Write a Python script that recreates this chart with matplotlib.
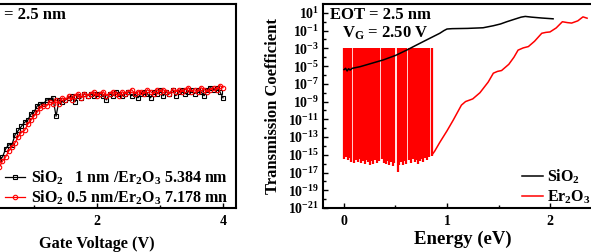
import numpy as np
import matplotlib
matplotlib.use('Agg')
import matplotlib.pyplot as plt
from matplotlib.ticker import FixedLocator, FuncFormatter, NullFormatter

plt.rcParams.update({
    'font.family': 'Liberation Serif', 'font.weight': 'bold',
    'mathtext.fontset': 'custom', 'mathtext.rm': 'Liberation Serif:bold',
    'mathtext.it': 'Liberation Serif:italic:bold', 'mathtext.bf': 'Liberation Serif:bold',
    'mathtext.default': 'rm', 'axes.linewidth': 1.5,
    'xtick.direction': 'in', 'ytick.direction': 'in',
})

# ---------------- left panel data (arbitrary units) ----------------
gate_v = [0.30, 0.35, 0.40, 0.45, 0.50, 0.55, 0.60, 0.65, 0.70, 0.75, 0.80, 0.85, 0.90, 0.95,
          1.00, 1.05, 1.10, 1.15, 1.20, 1.25, 1.30, 1.35, 1.40, 1.45, 1.50, 1.55, 1.60, 1.65,
          1.70, 1.75, 1.80, 1.85, 1.90, 1.95, 2.00, 2.05, 2.10, 2.15, 2.20, 2.25, 2.30, 2.35,
          2.40, 2.45, 2.50, 2.55, 2.60, 2.65, 2.70, 2.75, 2.80, 2.85, 2.90, 2.95, 3.00, 3.05,
          3.10, 3.15, 3.20, 3.25, 3.30, 3.35, 3.40, 3.45, 3.50, 3.55, 3.60, 3.65, 3.70, 3.75,
          3.80, 3.85, 3.90, 3.95, 4.00]
sio2_1nm = [0.17, 0.19, 0.21, 0.24, 0.25, 0.29, 0.31, 0.31, 0.36, 0.38, 0.40, 0.42, 0.43, 0.46,
            0.47, 0.50, 0.51, 0.51, 0.53, 0.53, 0.54, 0.45, 0.53, 0.52, 0.53, 0.54, 0.55, 0.52,
            0.55, 0.54, 0.56, 0.55, 0.56, 0.55, 0.56, 0.56, 0.55, 0.53, 0.56, 0.55, 0.57, 0.56,
            0.55, 0.56, 0.57, 0.55, 0.56, 0.54, 0.56, 0.57, 0.56, 0.54, 0.57, 0.56, 0.58, 0.55,
            0.57, 0.56, 0.58, 0.55, 0.57, 0.58, 0.56, 0.57, 0.58, 0.56, 0.58, 0.57, 0.55, 0.58,
            0.59, 0.58, 0.59, 0.57, 0.54]
sio2_05nm = [0.14, 0.16, 0.18, 0.20, 0.23, 0.25, 0.28, 0.30, 0.32, 0.35, 0.37, 0.38, 0.41, 0.43,
             0.45, 0.47, 0.49, 0.50, 0.50, 0.52, 0.51, 0.53, 0.51, 0.54, 0.53, 0.55, 0.53, 0.55,
             0.56, 0.54, 0.56, 0.55, 0.56, 0.57, 0.55, 0.56, 0.57, 0.55, 0.56, 0.57, 0.56, 0.55,
             0.57, 0.56, 0.57, 0.58, 0.56, 0.57, 0.57, 0.56, 0.58, 0.57, 0.56, 0.58, 0.57, 0.58,
             0.57, 0.56, 0.58, 0.57, 0.58, 0.57, 0.58, 0.59, 0.57, 0.58, 0.57, 0.59, 0.58, 0.57,
             0.58, 0.59, 0.58, 0.60, 0.59]
left_labels = ['SiO$_2$   1 nm /Er$_2$O$_3$ 5.384 nm', 'SiO$_2$ 0.5 nm/Er$_2$O$_3$ 7.178 mn']

# ---------------- right panel data (log10 of transmission) ----------------
sio2_E = [0.00, 0.015, 0.03, 0.045, 0.06, 0.08, 0.155, 0.25, 0.38, 0.50, 0.61, 0.70, 0.80,
          0.87, 0.93, 0.97, 1.00, 1.05, 1.20, 1.35, 1.45, 1.52, 1.58, 1.66, 1.72, 1.76, 1.82,
          1.92, 2.03]
sio2_logT = [-5.40, -5.25, -5.55, -5.30, -5.45, -5.25, -5.07, -4.75, -4.31, -3.80, -3.19, -2.65,
             -2.06, -1.65, -1.30, -1.00, -0.82, -0.78, -0.75, -0.68, -0.45, -0.25, 0.00, 0.30,
             0.52, 0.60, 0.52, 0.42, 0.33]

er2o3_spike_E = [0.000, 0.017, 0.034, 0.051, 0.068,
                 0.098, 0.115, 0.132, 0.149, 0.166, 0.183, 0.200, 0.217, 0.234, 0.251, 0.268,
                 0.285, 0.302, 0.319, 0.336,
                 0.370, 0.387, 0.404, 0.421, 0.438, 0.455, 0.472, 0.489,
                 0.520, 0.537, 0.554, 0.571, 0.588, 0.605,
                 0.635, 0.652, 0.669, 0.686, 0.703, 0.720, 0.737, 0.754, 0.771, 0.788, 0.805,
                 0.822, 0.855]
er2o3_spike_low = [-15.5, -15.3, -15.6, -15.4, -15.8,
                   -15.9, -15.6, -15.8, -15.5, -15.9, -15.7, -16.0, -15.6, -15.8, -16.1, -15.7,
                   -16.0, -15.6, -15.9, -15.7,
                   -15.5, -15.9, -16.0, -15.7, -16.2, -15.8, -16.3, -15.9,
                   -16.9, -16.2, -15.8, -16.1, -15.7, -16.0,
                   -15.6, -15.9, -15.5, -15.8, -15.6, -16.0, -15.7, -15.5, -15.8, -15.4, -15.6,
                   -15.3, -15.1]
er2o3_spike_peak = -2.95

er2o3_E = [0.855, 0.88, 0.93, 1.00, 1.06, 1.14, 1.18, 1.25, 1.32, 1.40, 1.45, 1.49, 1.53,
           1.60, 1.65, 1.69, 1.74, 1.79, 1.85, 1.92, 1.96, 2.00, 2.06, 2.12, 2.17, 2.21,
           2.27, 2.32, 2.36]
er2o3_logT = [-15.0, -14.6, -13.6, -12.3, -11.1, -9.4, -9.0, -8.7, -8.0, -6.8, -5.8, -5.6,
              -5.5, -4.8, -4.0, -3.2, -2.95, -2.8, -2.2, -1.3, -1.2, -1.15, -0.7, 0.0, -0.1,
              -0.15, 0.1, 0.55, 0.4]

# ---------------- figure ----------------
W, H = 591, 252
fig = plt.figure(figsize=(W / 100, H / 100), dpi=100)


def frac(l, r, t, b):
    return [l / W, 1 - b / H, (r - l) / W, (b - t) / H]


ax1 = fig.add_axes(frac(-41.6, 235.6, 4, 208))
ax2 = fig.add_axes(frac(323.4, 601.5, 4, 208))

# left panel
ax1.plot(gate_v, sio2_1nm, '-s', color='k', mfc='none', ms=3.2, mew=0.8, lw=0.9,
         label=left_labels[0])
ax1.plot(gate_v, sio2_05nm, '-o', color='r', mfc='none', ms=3.2, mew=0.8, lw=0.9,
         label=left_labels[1])
ax1.set_xlim(-0.2, 4.2)
ax1.set_ylim(0, 1)
ax1.xaxis.set_major_locator(FixedLocator([0, 2, 4]))
ax1.xaxis.set_minor_locator(FixedLocator([1, 3]))
ax1.set_yticks([])
ax1.tick_params(axis='x', which='major', length=3.5, width=1.0, labelsize=10, pad=5)
ax1.tick_params(axis='x', which='minor', length=2.5, width=1.0)
ax1.set_xlabel('Gate Voltage (V)', fontsize=11.7, fontweight='bold', labelpad=6)
ax1.text(0.025, 0.946, 'EOT = 2.5 nm', transform=ax1.transAxes, fontsize=12,
         fontweight='bold', va='center', ha='left')
ax1.legend(loc='upper left', bbox_to_anchor=((5 + 41.6) / 277.2, 0.192),
           frameon=False, fontsize=11.5, handlelength=1.25, handletextpad=0.4,
           borderpad=0, borderaxespad=0, labelspacing=0.1)

# right panel
ax2.vlines(er2o3_spike_E, [10.0 ** v for v in er2o3_spike_low], 10.0 ** er2o3_spike_peak,
           color='#ff0000', lw=1.6, zorder=2)
ax2.plot(er2o3_E, [10.0 ** v for v in er2o3_logT], color='#ff0000', lw=1.1, zorder=3,
         label='Er$_2$O$_3$')
ax2.plot(sio2_E, [10.0 ** v for v in sio2_logT], color='k', lw=1.1, zorder=4,
         label='SiO$_2$')
ax2.set_yscale('log')
ax2.set_ylim(1e-21, 1e2)
ax2.set_xlim(-0.2, 2.5)
ax2.yaxis.set_major_locator(FixedLocator([10.0 ** e for e in range(-21, 2, 2)]))
ax2.yaxis.set_minor_locator(FixedLocator([10.0 ** e for e in range(-20, 2, 2)]))
ax2.yaxis.set_major_formatter(FuncFormatter(lambda v, p: r'$10^{%d}$' % round(np.log10(v))))
ax2.yaxis.set_minor_formatter(NullFormatter())
ax2.xaxis.set_major_locator(FixedLocator([0, 1, 2]))
ax2.xaxis.set_minor_locator(FixedLocator([0.5, 1.5]))
ax2.tick_params(axis='both', which='major', length=3.5, width=1.0, labelsize=10, pad=3)
ax2.tick_params(axis='both', which='minor', length=2.5, width=1.0)
ax2.tick_params(axis='x', which='major', pad=5)
ax2.set_xlabel('Energy (eV)', fontsize=13.5, fontweight='bold', labelpad=2)
ax2.set_ylabel('Transmission Coefficient', fontsize=12, fontweight='bold', labelpad=5)
ax2.text(0.025, 0.946, 'EOT = 2.5 nm', transform=ax2.transAxes, fontsize=12,
         fontweight='bold', va='center', ha='left')
ax2.text(0.222, 0.858, 'V$_{\\mathrm{G}}$ = 2.50 V', transform=ax2.transAxes, fontsize=12,
         fontweight='bold', va='center', ha='center')
h, l = ax2.get_legend_handles_labels()
ax2.legend([h[1], h[0]], [l[1], l[0]], loc='upper left',
           bbox_to_anchor=((522 - 323.4) / 278.1, 0.2),
           frameon=False, fontsize=11.5, handlelength=1.3, handletextpad=0.25,
           borderpad=0, borderaxespad=0, labelspacing=0.16)

fig.savefig('out.png', dpi=100)
